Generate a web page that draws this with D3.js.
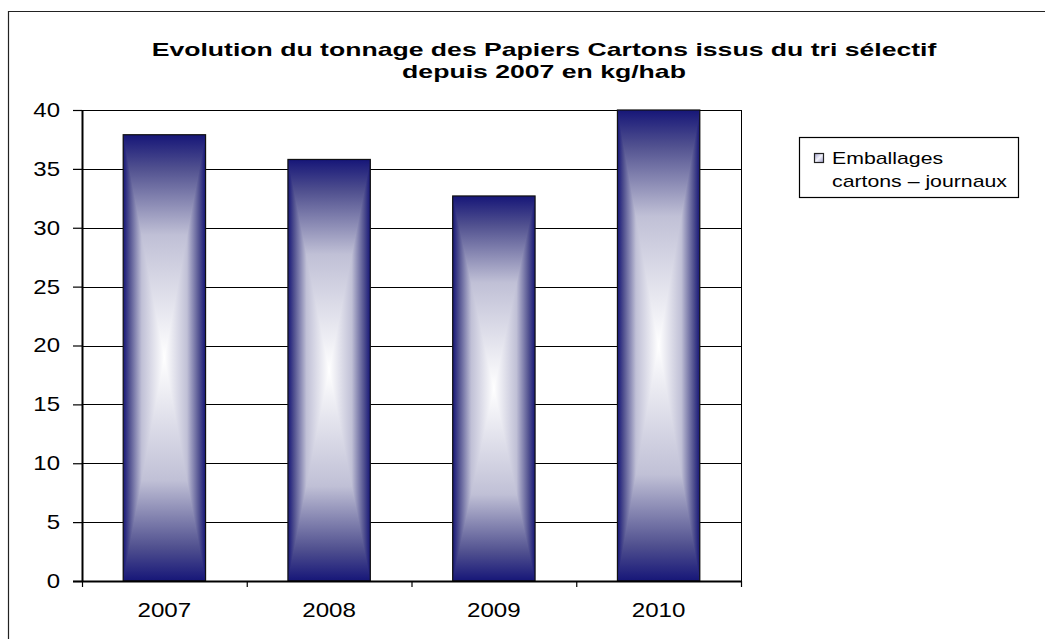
<!DOCTYPE html>
<html>
<head>
<meta charset="utf-8">
<script src="https://cdn.jsdelivr.net/npm/d3@7"></script>
<style>
  body { margin: 0; background: #fff; }
  svg { display: block; font-family: 'Liberation Sans', Arial, sans-serif; }
</style>
</head>
<body>
<svg id="chart" width="1045" height="639"></svg>
<script>
const years = ['2007', '2008', '2009', '2010'];
const values = [37.9, 35.8, 32.7, 40];
const yTicks = [0, 5, 10, 15, 20, 25, 30, 35, 40];
const titleLines = ['Evolution du tonnage des Papiers Cartons issus du tri sélectif', 'depuis 2007 en kg/hab'];
const seriesName = ['Emballages', 'cartons – journaux'];

const navy = '#161678';
// ramp from edge (navy) to centre (white)
const ramp = [[0, navy], [0.15, '#50508f'], [0.45, '#c0c0d6'], [1, '#ffffff']];

const svg = d3.select('#chart');
const plot = { left: 82, right: 741, top: 110, bottom: 581 };

// the original text is drawn wider than normal: stretch horizontally around its anchor
const stretch = (sel, sx) => sel.each(function () {
  const t = d3.select(this);
  const ax = +t.attr('x') || 0;
  t.attr('transform', `translate(${ax},0) scale(${sx},1) translate(${-ax},0)`);
});

const x = d3.scaleBand()
  .domain(years)
  .range([plot.left, plot.right])
  .paddingInner(0.5)
  .paddingOuter(0.25);

const y = d3.scaleLinear()
  .domain([0, 40])
  .range([plot.bottom, plot.top]);

// gradients
const defs = svg.append('defs');
const grad = (id, x1, y1, x2, y2) => {
  const g = defs.append('linearGradient').attr('id', id)
    .attr('x1', x1).attr('y1', y1).attr('x2', x2).attr('y2', y2);
  ramp.forEach(([o, c]) => g.append('stop').attr('offset', o).attr('stop-color', c));
};
grad('gLeft', 0, 0, 1, 0);
grad('gRight', 1, 0, 0, 0);
const gv = defs.append('linearGradient').attr('id', 'gVert')
  .attr('x1', 0).attr('y1', 0).attr('x2', 0).attr('y2', 1);
ramp.forEach(([o, c]) => gv.append('stop').attr('offset', o / 2).attr('stop-color', c));
ramp.slice().reverse().forEach(([o, c]) => gv.append('stop').attr('offset', 1 - o / 2).attr('stop-color', c));

// outer frame
svg.append('path')
  .attr('d', 'M8.5,700V11.5H1100')
  .attr('fill', 'none')
  .attr('stroke', '#222')
  .attr('stroke-width', 1.2);

// title
svg.append('g')
  .selectAll('text')
  .data(titleLines)
  .enter()
  .append('text')
  .attr('x', 544)
  .attr('y', (d, i) => 56 + i * 22)
  .attr('text-anchor', 'middle')
  .attr('font-weight', 'bold')
  .attr('font-size', 19)
  .text(d => d)
  .call(stretch, 1.4);

// gridlines
svg.append('g')
  .selectAll('line')
  .data(yTicks.slice(1))
  .enter()
  .append('line')
  .attr('x1', plot.left)
  .attr('x2', plot.right)
  .attr('y1', d => Math.round(y(d)) + 0.5)
  .attr('y2', d => Math.round(y(d)) + 0.5)
  .attr('stroke', '#000')
  .attr('stroke-width', 1);

// right border of plot area
svg.append('line')
  .attr('x1', plot.right + 0.5).attr('x2', plot.right + 0.5)
  .attr('y1', plot.top).attr('y2', plot.bottom)
  .attr('stroke', '#000');

// bars
const bars = svg.append('g')
  .selectAll('g')
  .data(years.map((yr, i) => ({ yr, v: values[i] })))
  .enter()
  .append('g');

bars.append('rect')
  .attr('x', d => x(d.yr))
  .attr('y', d => y(d.v))
  .attr('width', x.bandwidth())
  .attr('height', d => y(0) - y(d.v))
  .attr('fill', 'url(#gVert)');

bars.append('path')
  .attr('fill', 'url(#gLeft)')
  .attr('d', (d) => {
    const x0 = x(d.yr); const cx = x0 + x.bandwidth() / 2;
    const y0 = y(d.v); const y1 = y(0); const cy = (y0 + y1) / 2;
    return `M${x0},${y0}L${cx},${cy}L${x0},${y1}Z`;
  });

bars.append('path')
  .attr('fill', 'url(#gRight)')
  .attr('d', (d) => {
    const x1 = x(d.yr) + x.bandwidth(); const cx = x(d.yr) + x.bandwidth() / 2;
    const y0 = y(d.v); const y1 = y(0); const cy = (y0 + y1) / 2;
    return `M${x1},${y0}L${cx},${cy}L${x1},${y1}Z`;
  });

bars.append('rect')
  .attr('x', d => x(d.yr))
  .attr('y', d => y(d.v))
  .attr('width', x.bandwidth())
  .attr('height', d => y(0) - y(d.v))
  .attr('fill', 'none')
  .attr('stroke', '#111')
  .attr('stroke-width', 1.2);

// axes
const yAxis = svg.append('g')
  .attr('transform', `translate(${plot.left},0)`)
  .call(d3.axisLeft(y).tickValues(yTicks).tickSize(9).tickPadding(13));
yAxis.selectAll('text')
  .attr('font-size', 20)
  .attr('fill', '#000')
  .attr('font-family', 'Liberation Sans, Arial, sans-serif')
  .call(stretch, 1.2);
yAxis.select('.domain').attr('stroke-width', 2).attr('d', `M0.5,${plot.bottom}V${plot.top}`);
yAxis.selectAll('.tick line').attr('stroke-width', 1.2);

const xTickScale = d3.scaleLinear().domain([0, years.length]).range([plot.left, plot.right]);
const xAxis = svg.append('g')
  .attr('transform', `translate(0,${plot.bottom})`);
xAxis.append('line')
  .attr('x1', plot.left - 9).attr('x2', plot.right)
  .attr('y1', 0.5).attr('y2', 0.5)
  .attr('stroke', '#000').attr('stroke-width', 2);
xAxis.selectAll('.xt')
  .data(d3.range(years.length + 1))
  .enter()
  .append('line')
  .attr('x1', d => xTickScale(d) + 0.5)
  .attr('x2', d => xTickScale(d) + 0.5)
  .attr('y1', 0).attr('y2', 6)
  .attr('stroke', '#000').attr('stroke-width', 1.2);
xAxis.selectAll('text')
  .data(years)
  .enter()
  .append('text')
  .attr('x', d => x(d) + x.bandwidth() / 2)
  .attr('y', 36)
  .attr('text-anchor', 'middle')
  .attr('font-size', 21)
  .text(d => d)
  .call(stretch, 1.15);

// legend
const legend = svg.append('g');
legend.append('rect')
  .attr('x', 799.5).attr('y', 137.5)
  .attr('width', 219).attr('height', 60)
  .attr('fill', '#fff').attr('stroke', '#000').attr('stroke-width', 1.2);
const mg = defs.append('linearGradient').attr('id', 'gMark')
  .attr('x1', 0).attr('y1', 0).attr('x2', 1).attr('y2', 1);
mg.append('stop').attr('offset', '0%').attr('stop-color', '#9a9ac8');
mg.append('stop').attr('offset', '50%').attr('stop-color', '#f2f2fa');
mg.append('stop').attr('offset', '100%').attr('stop-color', '#9a9ac8');
legend.append('rect')
  .attr('x', 814.5).attr('y', 153.5)
  .attr('width', 9).attr('height', 9)
  .attr('fill', 'url(#gMark)').attr('stroke', '#222').attr('stroke-width', 1.2);
legend.selectAll('.lt')
  .data(seriesName)
  .enter()
  .append('text')
  .attr('x', 832)
  .attr('y', (d, i) => 164 + i * 23)
  .attr('font-size', 16)
  .text(d => d)
  .call(stretch, 1.33);
</script>
</body>
</html>
